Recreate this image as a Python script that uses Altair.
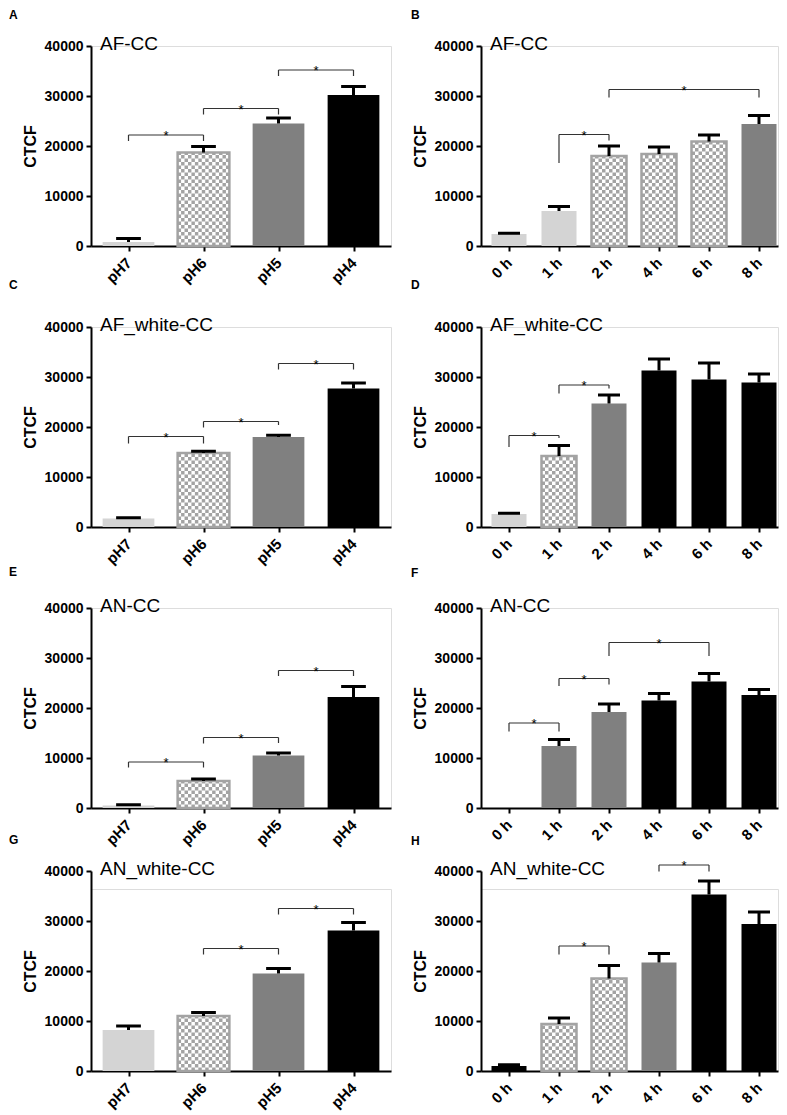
import altair as alt
import pandas as pd

FONT = "Liberation Sans"

# ---------------- data ----------------
cats_ph = ["pH7", "pH6", "pH5", "pH4"]
cats_h = ["0 h", "1 h", "2 h", "4 h", "6 h", "8 h"]

# Panel A  AF-CC (pH)
a_values = [800, 18700, 24500, 30200]
a_errors = [700, 1200, 1100, 1700]
a_fills = ["light", "check", "gray", "black"]
a_brackets = [(0, 1, 22200, 21000, 21000), (1, 2, 27500, 26300, 26300), (2, 3, 35200, 34000, 34000)]

# Panel B  AF-CC (time)
b_values = [2400, 7000, 18000, 18400, 20900, 24400]
b_errors = [150, 900, 2000, 1400, 1300, 1700]
b_fills = ["light", "light", "check", "check", "check", "gray"]
b_brackets = [(1, 2, 22300, 16600, 21100), (2, 5, 31300, 29700, 29700)]

# Panel C  AF_white-CC (pH)
c_values = [1700, 14800, 18000, 27700]
c_errors = [150, 350, 350, 1100]
c_fills = ["light", "check", "gray", "black"]
c_brackets = [(0, 1, 18100, 16700, 16700), (1, 2, 21100, 19900, 20400), (2, 3, 32700, 31500, 31500)]

# Panel D  AF_white-CC (time)
d_values = [2600, 14200, 24700, 31300, 29500, 28900]
d_errors = [150, 2100, 1700, 2300, 3300, 1700]
d_fills = ["light", "check", "gray", "black", "black", "black"]
d_brackets = [(0, 1, 18300, 16000, 17800), (1, 2, 28400, 26700, 27700)]

# Panel E  AN-CC (pH)
e_values = [500, 5400, 10500, 22200]
e_errors = [150, 400, 500, 2100]
e_fills = ["light", "check", "gray", "black"]
e_brackets = [(0, 1, 9200, 8100, 8100), (1, 2, 14100, 12900, 13000), (2, 3, 27500, 26400, 26400)]

# Panel F  AN-CC (time)
f_values = [0, 12400, 19200, 21500, 25300, 22600]
f_errors = [0, 1300, 1600, 1400, 1600, 1100]
f_fills = ["light", "gray", "gray", "black", "black", "black"]
f_brackets = [(0, 1, 17000, 15300, 15300), (1, 2, 25900, 24400, 24700), (2, 4, 33100, 30400, 30400)]

# Panel G  AN_white-CC (pH)
g_values = [8200, 11000, 19500, 28100]
g_errors = [800, 700, 1000, 1600]
g_fills = ["light", "check", "gray", "black"]
g_brackets = [(1, 2, 24500, 23300, 23300), (2, 3, 32500, 31300, 31300)]

# Panel H  AN_white-CC (time)
h_values = [1000, 9400, 18500, 21700, 35300, 29400]
h_errors = [250, 1200, 2600, 1800, 2700, 2400]
h_fills = ["black", "check", "check", "gray", "black", "black"]
h_brackets = [(1, 2, 25000, 23300, 23300), (3, 4, 41200, 39900, 39900)]

y_ticks = [0, 10000, 20000, 30000, 40000]

FILL_DOMAIN = ["light", "check", "gray", "black"]
FILL_RANGE = ["#d4d4d4", "#ffffff", "#808080", "#000000"]
CHECK_GRAY = "#a3a3a3"


def panel(letter, name, cats, values, errors, fills, brackets, left, letter_y, shift=0):
    n = len(cats)
    hw = 0.345 if left else 0.35
    cap = 0.165 if left else 0.22
    dom = [-0.5, n - 0.5] if left else [-0.56, n - 1 + 0.38]
    width = 300 if left else 297
    height = 200 - shift
    ncol = 15 if left else 10
    cell = 700

    xscale = alt.Scale(domain=dom, nice=False, zero=False)
    if shift:
        yscale = alt.Scale(domain=[0, 40000], nice=False, range=[height, -shift])
    else:
        yscale = alt.Scale(domain=[0, 40000], nice=False)
    label_list = "[" + ",".join("'" + c + "'" for c in cats) + "]"
    xaxis = alt.Axis(values=list(range(n)), labelExpr=label_list + "[datum.value]",
                     labelAngle=-45, labelAlign="right", labelBaseline="middle",
                     labelPadding=9, labelFontSize=15, labelFontWeight="bold",
                     labelColor="black", tickSize=5, tickWidth=2, tickColor="black",
                     domainWidth=2, domainColor="black", grid=False, title=None,
                     labelFont=FONT)
    yaxis = alt.Axis(values=y_ticks, format="d", labelFontSize=14, labelFontWeight="bold",
                     labelColor="black", tickSize=5, tickWidth=2, tickColor="black",
                     domainWidth=2, domainColor="black", grid=False, title="CTCF",
                     titleFontSize=16, titleFontWeight="bold", titleColor="black",
                     titlePadding=6, labelPadding=3, labelFont=FONT, titleFont=FONT)

    def X():
        return alt.X("x:Q", scale=xscale, axis=xaxis)

    def Y():
        return alt.Y("y:Q", scale=yscale, axis=yaxis)

    bars = pd.DataFrame({
        "x": [i - hw for i in range(n)],
        "x2": [i + hw for i in range(n)],
        "y": values,
        "y2": [0] * n,
        "f": fills,
    })
    bars = bars[bars["y"] > 0]

    cells = []
    cw = 2 * hw / ncol
    for i in range(n):
        if fills[i] != "check":
            continue
        v = values[i]
        r = 0
        while r * cell < v:
            y0 = r * cell
            y1 = min((r + 1) * cell, v)
            for c in range(ncol):
                if (r + c) % 2 == 0:
                    x0 = i - hw + c * cw
                    cells.append({"x": x0, "x2": x0 + cw, "y": y0, "y2": y1})
            r += 1
    cells = pd.DataFrame(cells, columns=["x", "x2", "y", "y2"])

    stems = pd.DataFrame({
        "x": list(range(n)),
        "y": values,
        "y2": [v + e for v, e in zip(values, errors)],
        "e": errors,
    })
    stems = stems[stems["e"] > 0]
    caps = pd.DataFrame({
        "x": [i - cap for i in range(n)],
        "x2": [i + cap for i in range(n)],
        "y": [v + e for v, e in zip(values, errors)],
        "e": errors,
    })
    caps = caps[caps["e"] > 0]

    bh = pd.DataFrame({
        "x": [b[0] for b in brackets],
        "x2": [b[1] for b in brackets],
        "y": [b[2] for b in brackets],
    })
    legs = pd.DataFrame({
        "x": [b[0] for b in brackets] + [b[1] for b in brackets],
        "y": [b[2] for b in brackets] * 2,
        "y2": [b[3] for b in brackets] + [b[4] for b in brackets],
    })
    stars = pd.DataFrame({
        "x": [(b[0] + b[1]) / 2 for b in brackets],
        "y": [b[2] for b in brackets],
        "t": ["*"] * len(brackets),
    })

    layers = [
        alt.Chart(bars).mark_rect().encode(
            x=X(), x2="x2:Q", y=Y(), y2="y2:Q",
            color=alt.Color("f:N", scale=alt.Scale(domain=FILL_DOMAIN, range=FILL_RANGE), legend=None),
        ),
    ]
    if len(cells):
        layers.append(alt.Chart(cells).mark_rect(color=CHECK_GRAY).encode(
            x=X(), x2="x2:Q", y=Y(), y2="y2:Q"))
        layers.append(alt.Chart(bars[bars["f"] == "check"]).mark_rect(
            fillOpacity=0, stroke=CHECK_GRAY, strokeWidth=2.5).encode(
            x=X(), x2="x2:Q", y=Y(), y2="y2:Q"))
    layers += [
        alt.Chart(stems).mark_rule(color="black", strokeWidth=3).encode(x=X(), y=Y(), y2="y2:Q"),
        alt.Chart(caps).mark_rule(color="black", strokeWidth=3).encode(x=X(), x2="x2:Q", y=Y()),
        alt.Chart(bh).mark_rule(color="#333333", strokeWidth=1.2).encode(x=X(), x2="x2:Q", y=Y()),
        alt.Chart(legs).mark_rule(color="#333333", strokeWidth=1.2).encode(x=X(), y=Y(), y2="y2:Q"),
        alt.Chart(stars).mark_text(font=FONT, fontSize=13, fill="#000000", baseline="alphabetic", dy=5).encode(
            x=X(), y=Y(), text="t:N"),
        alt.Chart(pd.DataFrame({"t": [name]})).mark_text(
            font=FONT, fontSize=19, color="black", align="left", baseline="alphabetic").encode(
            x=alt.value(9), y=alt.value(4 - shift), text="t:N"),
        alt.Chart(pd.DataFrame({"t": [letter]})).mark_text(
            font=FONT, fontSize=12, fontWeight="bold", color="black", align="left",
            baseline="alphabetic").encode(
            x=alt.value(-82 if left else -70), y=alt.value(letter_y - shift), text="t:N"),
    ]
    return alt.layer(*layers).properties(width=width, height=height)


pA = panel("A", "AF-CC", cats_ph, a_values, a_errors, a_fills, a_brackets, True, -27)
pB = panel("B", "AF-CC", cats_h, b_values, b_errors, b_fills, b_brackets, False, -27)
pC = panel("C", "AF_white-CC", cats_ph, c_values, c_errors, c_fills, c_brackets, True, -38)
pD = panel("D", "AF_white-CC", cats_h, d_values, d_errors, d_fills, d_brackets, False, -38)
pE = panel("E", "AN-CC", cats_ph, e_values, e_errors, e_fills, e_brackets, True, -32)
pF = panel("F", "AN-CC", cats_h, f_values, f_errors, f_fills, f_brackets, False, -31)
pG = panel("G", "AN_white-CC", cats_ph, g_values, g_errors, g_fills, g_brackets, True, -27, shift=18)
pH = panel("H", "AN_white-CC", cats_h, h_values, h_errors, h_fills, h_brackets, False, -26, shift=18)

chart = alt.concat(
    pA, pB, pC, pD, pE, pF, pG, pH,
    columns=2, spacing={"row": 81, "column": 90}, bounds="flush",
).properties(
    padding={"left": 0, "top": 0, "right": 0, "bottom": 0}
).configure_view(stroke="transparent", strokeWidth=0, fill="transparent").configure(font=FONT)

chart.save("out.html", embed_options={"renderer": "svg", "actions": False})
